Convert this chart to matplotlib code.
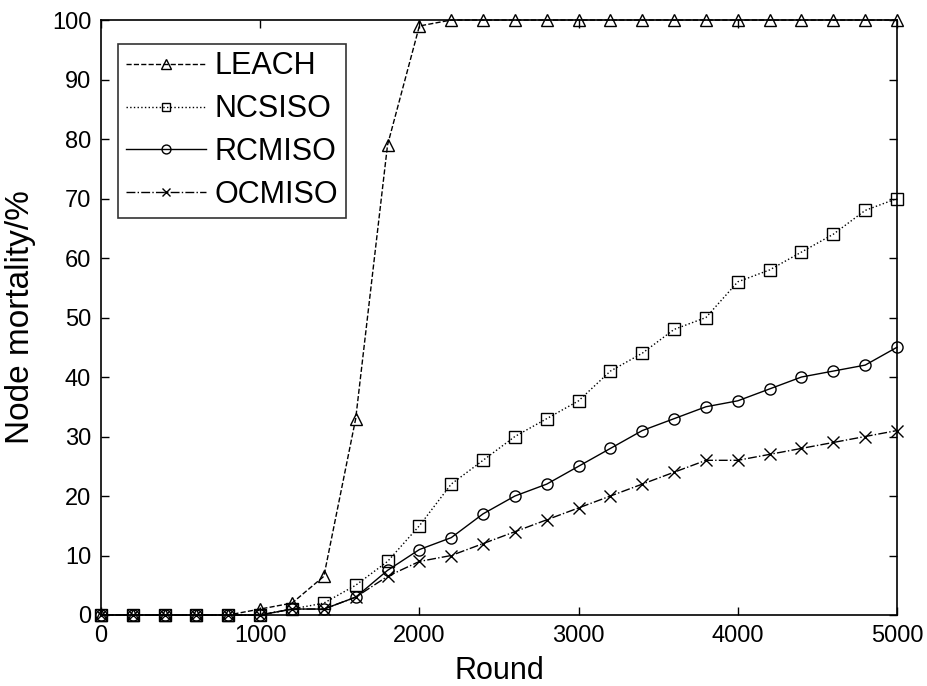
import numpy as np
import matplotlib.pyplot as plt

plt.rcParams['font.family'] = ['Liberation Sans', 'DejaVu Sans']

rounds = np.arange(0, 5001, 200)

leach = [0, 0, 0, 0, 0, 1, 2, 6.5, 33, 79, 99,
         100, 100, 100, 100, 100, 100, 100, 100, 100, 100, 100, 100, 100, 100, 100]
ncsiso = [0, 0, 0, 0, 0, 0, 1, 2, 5, 9, 15,
          22, 26, 30, 33, 36, 41, 44, 48, 50, 56, 58, 61, 64, 68, 70]
rcmiso = [0, 0, 0, 0, 0, 0, 1, 1, 3, 7.5, 11,
          13, 17, 20, 22, 25, 28, 31, 33, 35, 36, 38, 40, 41, 42, 45]
ocmiso = [0, 0, 0, 0, 0, 0, 1, 1, 3, 6.5, 9,
          10, 12, 14, 16, 18, 20, 22, 24, 26, 26, 27, 28, 29, 30, 31]

series = [
    (leach, 'LEACH', '--', '^', 9),
    (ncsiso, 'NCSISO', ':', 's', 8),
    (rcmiso, 'RCMISO', '-', 'o', 8),
    (ocmiso, 'OCMISO', '-.', 'x', 8),
]

fig = plt.figure(figsize=(9.28, 6.86), dpi=100)
ax = fig.add_axes([0.1088, 0.1035, 0.8578, 0.8673])

for vals, label, ls, mk, ms in series:
    ax.plot(rounds, vals, linestyle=ls, marker=mk, color='black', lw=1.0,
            markersize=ms, markerfacecolor='none', markeredgewidth=1.0,
            label=label, clip_on=False)

ax.set_xlim(0, 5000)
ax.set_ylim(0, 100)
ax.set_xticks(np.arange(0, 5001, 1000))
ax.set_yticks(np.arange(0, 101, 10))
ax.tick_params(direction='in', top=True, right=True, length=6, width=1,
               labelsize=17, pad=7)
for s in ax.spines.values():
    s.set_linewidth(1.2)

ax.set_xlabel('Round', fontsize=22, labelpad=7)
ax.set_ylabel('Node mortality/%', fontsize=24)
ax.yaxis.set_label_coords(-0.082, 0.5)

leg = ax.legend(loc='upper left', bbox_to_anchor=(0.022, 0.96), fontsize=22,
                frameon=True, fancybox=False, edgecolor='black',
                handlelength=2.6, labelspacing=0.42, borderpad=0.25,
                handletextpad=0.3, borderaxespad=0, markerscale=0.8)
leg.get_frame().set_linewidth(1.2)

fig.savefig('out.png', dpi=100)
